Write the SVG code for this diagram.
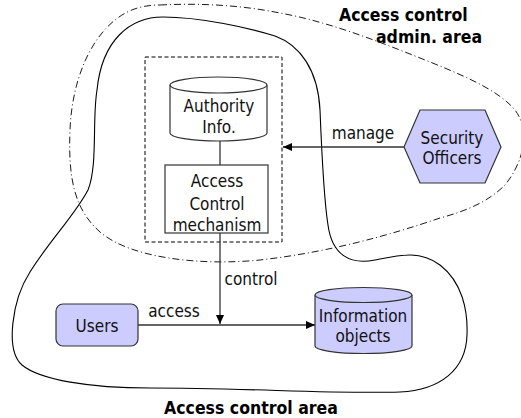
<svg xmlns="http://www.w3.org/2000/svg" width="521" height="418" viewBox="0 0 521 418">
<style>
.t{font-family:"DejaVu Sans Condensed","DejaVu Sans",sans-serif;font-stretch:condensed;font-size:17px;fill:#111;text-anchor:middle}
.b{font-family:"DejaVu Sans Condensed","DejaVu Sans",sans-serif;font-stretch:condensed;font-weight:bold;font-size:17.5px;fill:#000}
.area{fill:none;stroke:#000;stroke-width:1.1}
.adm{fill:none;stroke:#000;stroke-width:0.9;stroke-dasharray:7 3 1 3}
.conn{fill:none;stroke:#333;stroke-width:1.3}
.fill{fill:#ccccff;stroke:#333;stroke-width:1.2}
.plain{fill:#fff;stroke:#333;stroke-width:1.2}
</style>
<defs>
<marker id="ah" markerWidth="10" markerHeight="8" refX="9" refY="4" orient="auto" markerUnits="userSpaceOnUse">
<path d="M0,0 L9,4 L0,8 Z" fill="#000"/>
</marker>
</defs>
<g id="areas">
<path class="area" d="M163 17 C200 17 250 28 275 36 C300 45 318 70 320 110 C322 160 324 200 328 225 C332 255 350 265 375 260 C400 255 420 250 440 265 C462 282 468 310 467 335 C466 370 440 390 400 392 C330 394 250 388 150 388 C90 388 40 380 22 365 C5 350 12 300 30 272 C50 240 75 215 88 190 C98 165 92 120 97 90 C102 40 130 17 163 17 Z"/>
<path class="adm" d="M160 5 C200 3 240 5 280 13 C330 22 380 42 430 62 C470 78 500 92 515 110 C530 130 525 160 505 185 C490 200 470 210 440 218 C390 235 330 252 260 260 C200 266 130 258 100 232 C75 210 68 180 70 130 C72 80 90 40 115 20 C130 8 145 5 160 5 Z"/>
<rect x="145" y="57" width="137" height="185" fill="none" stroke="#000" stroke-width="1" stroke-dasharray="4 2.5"/>
</g>
<g id="connectors">
<line class="conn" x1="220" y1="141" x2="220" y2="165"/>
<line class="conn" x1="220" y1="233" x2="220" y2="324" marker-end="url(#ah)"/>
<line class="conn" x1="138" y1="325" x2="315" y2="325" marker-end="url(#ah)"/>
<line class="conn" x1="404" y1="147" x2="283" y2="147" marker-end="url(#ah)"/>
<text class="t" x="363" y="139">manage</text>
<text class="t" x="251" y="285">control</text>
<text class="t" x="174" y="317">access</text>
</g>
<g id="authority">
<path class="plain" d="M170 85 L170 133 A48.5 8 0 0 0 267 133 L267 85"/>
<ellipse class="plain" cx="218.5" cy="85" rx="48.5" ry="8"/>
<text class="t" x="219" y="112">Authority</text>
<text class="t" x="219" y="133">Info.</text>
</g>
<g id="mechanism">
<rect class="plain" x="165" y="165" width="103" height="68"/>
<text class="t" x="217" y="187">Access</text>
<text class="t" x="217" y="210">Control</text>
<text class="t" x="217" y="231">mechanism</text>
</g>
<g id="officers">
<polygon class="fill" points="404,147 420,110 485,110 501,147 485,183 420,183"/>
<text class="t" x="452" y="144">Security</text>
<text class="t" x="452" y="164">Officers</text>
</g>
<g id="users">
<rect class="fill" x="56" y="304" width="82" height="42" rx="7"/>
<text class="t" x="97" y="332">Users</text>
</g>
<g id="information">
<path class="fill" d="M315 295 L315 346 A48.5 7.5 0 0 0 412 346 L412 295"/>
<ellipse class="fill" cx="363.5" cy="295" rx="48.5" ry="7.5"/>
<text class="t" x="363" y="322">Information</text>
<text class="t" x="363" y="342">objects</text>
</g>
<g id="labels">
<text class="b" x="339" y="21">Access control</text>
<text class="b" x="376" y="43">admin. area</text>
<text class="b" x="251" y="414" text-anchor="middle">Access control area</text>
</g>
</svg>
